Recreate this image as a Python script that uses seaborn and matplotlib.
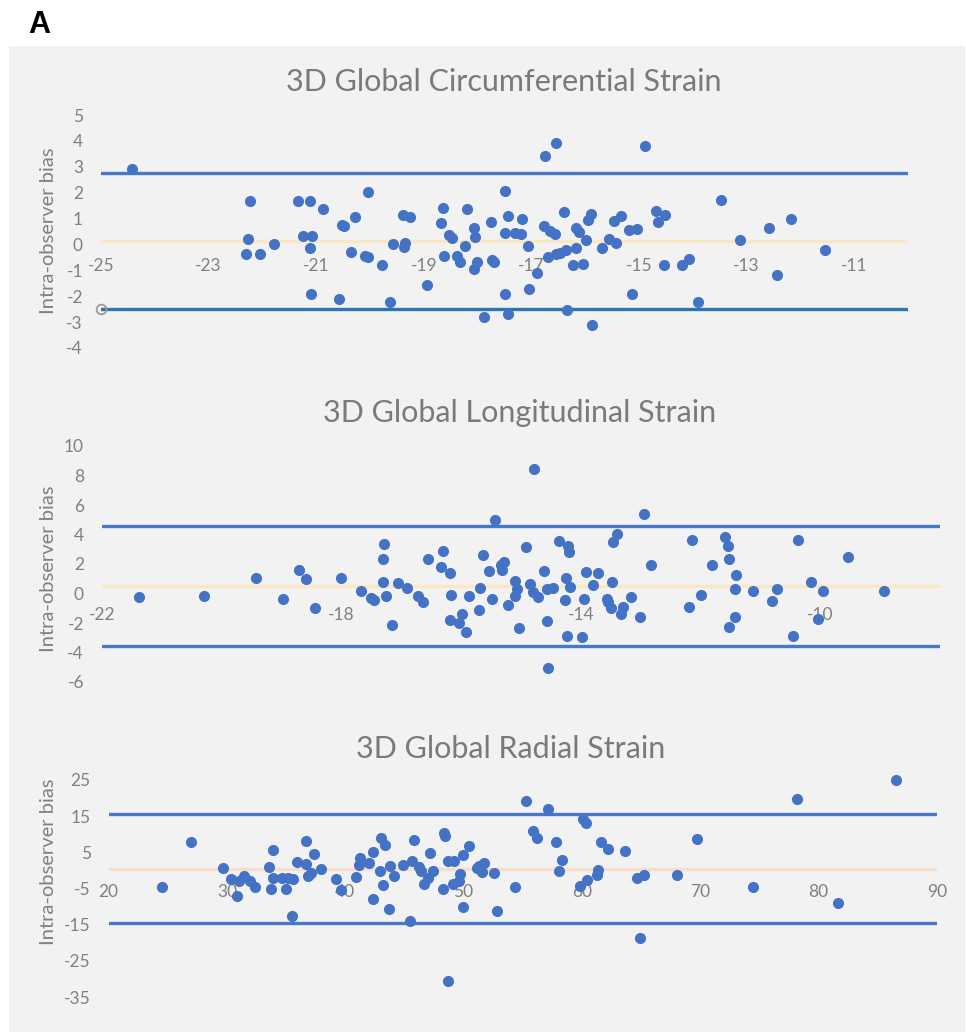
import numpy as np
import pandas as pd
import seaborn as sns
import matplotlib
matplotlib.use("Agg")
import matplotlib.pyplot as plt
from matplotlib.patches import Rectangle

sns.set_theme(style="white")
plt.rcParams["font.family"] = ["Lato", "DejaVu Sans"]
plt.rcParams["axes.unicode_minus"] = False

# ---------------- data ----------------
# 3D Global Circumferential Strain (mean vs. difference)
gcs_x = [-24.42, -22.23, -22.27, -22.30, -22.05, -21.79, -21.34, -21.11, -20.87, -21.24,
         -21.07, -21.12, -21.09, -20.52, -20.49, -20.27, -20.35, -20.04, -20.09, -20.04,
         -20.58, -19.77, -19.58, -19.63, -19.39, -19.26, -19.35, -19.36, -18.94, -18.64,
         -18.68, -18.63, -18.53, -18.48, -18.39, -18.32, -18.24, -18.20, -18.07, -18.05,
         -18.02, -18.07, -17.89, -17.76, -17.74, -17.69, -17.50, -17.49, -17.43, -17.49,
         -17.44, -17.31, -17.20, -17.17, -17.07, -16.90, -17.05, -16.75, -16.54, -16.77,
         -16.65, -16.57, -16.69, -16.55, -16.46, -16.35, -16.39, -16.34, -16.17, -16.11,
         -16.17, -16.23, -16.05, -15.99, -15.95, -15.90, -15.87, -15.69, -15.56, -15.47,
         -15.34, -15.43, -15.18, -15.03, -15.13, -14.89, -14.68, -14.52, -14.64, -14.53,
         -14.21, -14.07, -13.91, -13.47, -13.13, -12.59, -12.44, -12.18, -11.54]
gcs_y = [2.91, 1.69, 0.21, -0.37, -0.37, 0.00, 1.67, 1.68, 1.38, 0.34,
         0.32, -0.14, -1.90, 0.75, 0.70, 1.07, -0.31, 2.02, -0.45, -0.49,
         -2.09, -0.78, 0.03, -2.21, 1.12, 1.06, 0.05, -0.08, -1.56, 1.41,
         0.84, -0.45, 0.35, 0.26, -0.45, -0.69, -0.06, 1.36, 0.65, 0.28,
         -0.67, -0.94, -2.82, 0.85, -0.61, -0.67, 2.05, 0.44, 1.09, -1.91,
         -2.69, 0.44, 0.39, 0.97, -0.06, -1.09, -1.72, 3.41, 3.93, 0.71,
         0.50, 0.41, -0.47, -0.36, -0.34, -0.23, 1.25, -2.53, 0.63, 0.47,
         -0.12, -0.79, -0.75, 0.19, 0.93, 1.17, -3.10, -0.14, 0.21, 0.92,
         1.09, 0.05, 0.54, 0.58, -1.93, 3.81, 1.31, 1.15, 0.87, -0.80,
         -0.80, -0.58, -2.22, 1.71, 0.16, 0.63, -1.17, 0.98, -0.22]
gcs_mean, gcs_upper, gcs_lower = 0.15, 2.75, -2.48

# 3D Global Longitudinal Strain
gls_x = [-21.38, -20.29, -19.43, -18.98, -18.71, -18.59, -18.44, -18.00, -17.67, -17.50,
         -17.46, -17.29, -17.30, -17.30, -17.25, -17.16, -17.06, -16.90, -16.72, -16.64,
         -16.56, -16.30, -16.33, -16.18, -16.17, -16.18, -16.03, -15.99, -15.92, -15.87,
         -15.71, -15.69, -15.64, -15.54, -15.48, -15.43, -15.33, -15.29, -15.31, -15.21,
         -15.10, -15.06, -15.10, -15.04, -14.92, -14.85, -14.79, -14.80, -14.71, -14.62,
         -14.57, -14.47, -14.57, -14.55, -14.36, -14.21, -14.20, -14.25, -14.18, -14.27,
         -14.23, -13.98, -13.95, -13.91, -13.79, -13.72, -13.56, -13.55, -13.50, -13.48,
         -13.46, -13.39, -13.30, -13.33, -13.17, -13.02, -12.94, -12.82, -12.20, -12.14,
         -12.00, -11.81, -11.59, -11.55, -11.53, -11.41, -11.43, -11.43, -11.52, -11.13,
         -10.80, -10.72, -10.45, -10.37, -10.16, -10.03, -9.96, -9.53, -8.93]
gls_y = [-0.25, -0.20, 1.06, -0.34, 1.60, 0.97, -0.98, 1.02, 0.18, -0.30,
         -0.45, 3.34, 2.33, 0.79, -0.20, -2.15, 0.72, 0.38, -0.14, -0.57,
         2.33, 2.89, 1.83, 1.40, -0.09, -1.83, -1.99, -1.40, -2.60, -0.16,
         -1.15, 0.36, 2.64, 1.53, -0.37, 4.95, 1.92, 2.12, 1.56, -0.75,
         0.88, 0.31, -0.16, -2.37, 3.12, 0.65, 8.45, 0.07, -0.23, 1.53,
         0.31, 0.38, -1.88, -5.08, 3.57, 3.23, 2.78, 1.08, 0.45, -0.41,
         -2.85, -2.92, -0.39, 1.44, 0.61, 1.40, -0.34, -0.57, -0.95, 0.77,
         3.48, 4.02, -0.91, -1.36, -0.27, -1.56, 5.36, 1.92, -0.91, 3.63,
         -0.12, 1.90, 3.84, 3.21, 2.31, 1.26, 0.29, -1.61, -2.24, 0.14,
         -0.52, 0.29, -2.85, 3.63, 0.79, -1.70, 0.20, 2.46, 0.18]
gls_mean, gls_upper, gls_lower = 0.54, 4.61, -3.53

# 3D Global Radial Strain
grs_x = [24.51, 26.96, 29.69, 30.34, 30.82, 31.01, 31.46, 31.94, 32.37, 33.52,
         33.89, 33.86, 33.69, 34.62, 35.13, 35.61, 35.01, 35.47, 35.89, 36.70,
         36.65, 36.87, 37.10, 37.33, 37.95, 39.21, 39.61, 40.90, 41.24, 41.18,
         42.00, 42.34, 42.91, 42.32, 43.04, 43.33, 43.78, 43.19, 44.12, 43.72,
         44.85, 45.61, 45.78, 45.49, 46.20, 46.43, 46.63, 46.97, 47.19, 47.39,
         48.26, 48.32, 48.43, 48.71, 49.22, 48.66, 49.08, 49.64, 49.72, 49.95,
         49.92, 50.43, 51.11, 51.33, 51.53, 51.70, 52.60, 52.80, 54.32, 55.25,
         55.89, 56.21, 57.16, 57.84, 58.34, 58.06, 59.81, 60.41, 60.12, 60.35,
         61.34, 61.30, 61.64, 62.18, 63.64, 64.68, 65.22, 64.89, 68.01, 69.73,
         74.44, 78.16, 81.62, 86.53]
grs_y = [-4.70, 7.92, 0.64, -2.30, -6.99, -2.95, -1.57, -3.04, -4.50, 0.83,
         5.52, -2.02, -5.06, -2.02, -2.21, -2.49, -5.06, -12.50, 2.29, 8.20,
         1.85, -1.46, -0.64, 4.42, 0.47, -2.30, -5.44, -1.85, 3.31, 1.38,
         2.13, 4.97, -0.28, -8.01, 8.92, 6.91, 1.19, -4.14, -1.66, -10.69,
         1.38, 2.58, 8.47, -13.90, 1.01, -0.09, -3.68, -2.21, 4.70, -0.18,
         -5.16, 10.40, 9.48, 2.58, 2.67, -30.70, -3.87, -3.04, -1.10, 4.23,
         -10.20, 6.82, 0.64, 1.19, -0.36, 1.93, -0.75, -11.30, -4.50, 19.06,
         10.96, 9.03, 17.04, 7.82, 2.85, -0.28, -4.34, -2.76, 14.17, 12.98,
         0.18, -1.38, 7.92, 5.80, 5.25, -2.02, -1.29, -18.70, -1.38, 8.56,
         -4.70, 19.70, -9.12, 25.10]
grs_mean, grs_upper, grs_lower = 0.5, 15.7, -14.6

titles = ["3D Global Circumferential Strain", "3D Global Longitudinal Strain", "3D Global Radial Strain"]
ylabel = "Intra-observer bias"
panel_letter = "A"

# ---------------- figure ----------------
W, H = 966, 1032
fig = plt.figure(figsize=(W / 100, H / 100), dpi=100)
fig.patch.set_facecolor("white")
fig.add_artist(Rectangle((9 / W, 0), (965 - 9) / W, (H - 46) / H,
                         transform=fig.transFigure, facecolor="#F2F2F2",
                         edgecolor="none", zorder=0))

DOT = "#4472C4"
TXT = "#808080"
TITLE = "#7a7a7a"


def make_ax(l, r, t, b):
    ax = fig.add_axes([l / W, 1 - b / H, (r - l) / W, (b - t) / H])
    ax.set_facecolor("none")
    return ax


def panel(ax, xs, ys, mean, up, lo, xlim, ylim, xt, yt, up_c, lo_c, mean_c):
    df = pd.DataFrame({"avg": xs, "diff": ys})
    ax.axhline(up, color=up_c, lw=2.4, zorder=2)
    ax.axhline(lo, color=lo_c, lw=2.4, zorder=2)
    ax.axhline(mean, color=mean_c, lw=2.4, zorder=2)
    sns.scatterplot(data=df, x="avg", y="diff", ax=ax, color=DOT, s=64,
                    linewidth=0, zorder=4, legend=False, clip_on=False)
    ax.set_xlim(*xlim)
    ax.set_ylim(*ylim)
    ax.set_xticks(xt)
    ax.set_yticks(yt)
    for sp in ax.spines.values():
        sp.set_visible(False)
    ax.spines["bottom"].set_position(("data", 0))
    ax.tick_params(axis="both", length=0, colors=TXT, labelsize=12.5)
    ax.tick_params(axis="x", pad=10)
    ax.tick_params(axis="y", pad=13)
    ax.set_xlabel("")
    ax.set_ylabel("")
    ax.grid(False)


ax1 = make_ax(101, 908, 115, 348)
panel(ax1, gcs_x, gcs_y, gcs_mean, gcs_upper, gcs_lower, (-25, -10), (-4, 5),
      np.arange(-25, -10, 2), np.arange(-4, 6, 1), "#4A78C8", "#2E75B6", "#FAE8C4")
ax1.plot([-25], [gcs_lower], marker="o", ms=7, mfc="none", mec="#9a9a9a", mew=1.3,
         clip_on=False, zorder=5)

ax2 = make_ax(102, 940, 446, 682)
panel(ax2, gls_x, gls_y, gls_mean, gls_upper, gls_lower, (-22, -8), (-6, 10),
      np.arange(-22, -9, 4), np.arange(-6, 11, 2), "#4A78C8", "#4A78C8", "#FAE8C4")

ax3 = make_ax(108.7, 936.7, 780, 997)
panel(ax3, grs_x, grs_y, grs_mean, grs_upper, grs_lower, (20, 90), (-35, 25),
      np.arange(20, 91, 10), np.arange(-35, 26, 10), "#4A78C8", "#4A78C8", "#F7DDCB")

# titles and axis labels
for (cx, cy), t in zip([(504, 82), (520, 413), (511, 749)], titles):
    fig.text(cx / W, 1 - cy / H, t, ha="center", va="center", fontsize=22, color=TITLE)
for cy in [231, 569, 862]:
    fig.text(49 / W, 1 - cy / H, ylabel, ha="center", va="center", rotation=90,
             fontsize=14.5, color=TXT)
fig.text(39 / W, 1 - 25 / H, panel_letter, ha="center", va="center", fontsize=22,
         fontweight="bold", color="black", family=["Liberation Sans", "DejaVu Sans"])

fig.savefig("out.png", dpi=100)
